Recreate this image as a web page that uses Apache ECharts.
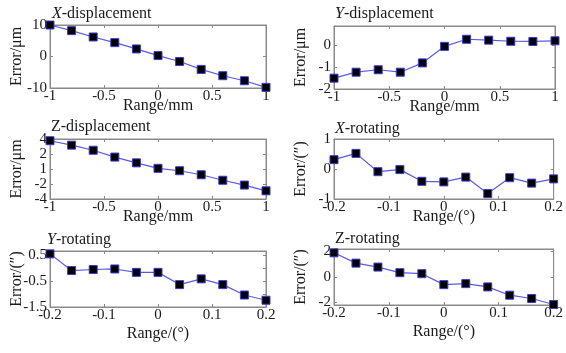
<!DOCTYPE html>
<html>
<head>
<meta charset="utf-8">
<script src="https://cdn.jsdelivr.net/npm/echarts@6/dist/echarts.min.js"></script>
<style>
  html, body { margin: 0; padding: 0; background: #fff; }
  #chart { width: 566px; height: 353px; }
</style>
</head>
<body>
<div id="chart"></div>
<script>
// Positions along the travel range (mm) and rotation range (degrees)
const rangeMm = [-1, -0.8, -0.6, -0.4, -0.2, 0, 0.2, 0.4, 0.6, 0.8, 1];
const rangeDeg = [-0.2, -0.16, -0.12, -0.08, -0.04, 0, 0.04, 0.08, 0.12, 0.16, 0.2];

// Measured errors for each motion axis
const xDisplacement = [10, 8.2, 6.2, 4.4, 2.4, 0.3, -1.6, -4.1, -6.1, -7.7, -9.8];
const yDisplacement = [-1.51, -1.24, -1.13, -1.24, -0.82, -0.07, 0.25, 0.21, 0.16, 0.15, 0.18];
const zDisplacement = [3.77, 3.18, 2.5, 1.59, 0.82, 0.09, -0.23, -0.77, -1.5, -2.14, -2.91];
const xRotating = [0.31, 0.52, -0.09, -0.02, -0.41, -0.43, -0.27, -0.82, -0.29, -0.47, -0.33];
const yRotating = [0.54, -0.1, -0.06, -0.04, -0.17, -0.17, -0.64, -0.42, -0.64, -1.04, -1.24];
const zRotating = [1.9, 1.09, 0.78, 0.34, 0.26, -0.6, -0.52, -0.78, -1.43, -1.69, -2.16];

// Tick values and the labels printed at them
const mmTicks = [-1, -0.5, 0, 0.5, 1];
const degTicks = [-0.2, -0.1, 0, 0.1, 0.2];
const xDispTicks = [-10, 0, 10];
const yDispTicks = [-2, -1, 0];
const zDispTicks = [-4, -2, 0, 2, 4];
const zDispTickLabels = ['-4', '-2', '1', '2', '4'];
const xRotTicks = [-1, 0, 1];
const yRotTicks = [-1.5, -1, -0.5, 0, 0.5];
const zRotTicks = [-2, 0, 2];

const FONT = 'Liberation Serif, Times New Roman, serif';
const FRAME = '#8a8a8a';
const TEXT = '#1a1a1a';

const panels = [
  { title: ['X', '-displacement'], italic: true, x: rangeMm, y: xDisplacement, xTicks: mmTicks, xMin: -1, xMax: 1,
    yTicks: xDispTicks, yMin: -10, yMax: 10, xName: 'Range/mm', yName: 'Error/μm',
    grid: { left: 50, top: 25, width: 216, height: 63 }, titlePos: { left: 52, top: 6 }, xGap: 10 },
  { title: ['Y', '-displacement'], italic: true, x: rangeMm, y: yDisplacement, xTicks: mmTicks, xMin: -1, xMax: 1,
    yTicks: yDispTicks, yMin: -2, yMax: 0.85, xName: 'Range/mm', yName: 'Error/μm',
    grid: { left: 334, top: 26, width: 221, height: 63 }, titlePos: { left: 335, top: 6 }, xGap: 10 },
  { title: ['Z', '-displacement'], italic: false, x: rangeMm, y: zDisplacement, xTicks: mmTicks, xMin: -1, xMax: 1,
    yTicks: zDispTicks, yLabels: zDispTickLabels, yMin: -4, yMax: 4, xName: 'Range/mm', yName: 'Error/μm',
    grid: { left: 50, top: 139, width: 216, height: 60 }, titlePos: { left: 51, top: 119 }, xGap: 10 },
  { title: ['X', '-rotating'], italic: true, x: rangeDeg, y: xRotating, xTicks: degTicks, xMin: -0.2, xMax: 0.2,
    yTicks: xRotTicks, yMin: -1, yMax: 1, xName: 'Range/(°)', yName: 'Error/(″)',
    grid: { left: 334, top: 139, width: 221, height: 60 }, titlePos: { left: 335, top: 121 }, xGap: 10 },
  { title: ['Y', '-rotating'], italic: true, x: rangeDeg, y: yRotating, xTicks: degTicks, xMin: -0.2, xMax: 0.2,
    yTicks: yRotTicks, yMin: -1.5, yMax: 0.65, xName: 'Range/(°)', yName: 'Error/(″)',
    grid: { left: 50, top: 251, width: 216, height: 56 }, titlePos: { left: 47, top: 232 }, xGap: 19 },
  { title: ['Z', '-rotating'], italic: false, x: rangeDeg, y: zRotating, xTicks: degTicks, xMin: -0.2, xMax: 0.2,
    yTicks: zRotTicks, yMin: -2.2, yMax: 2.2, xName: 'Range/(°)', yName: 'Error/(″)',
    grid: { left: 334, top: 249, width: 221, height: 56 }, titlePos: { left: 335, top: 231 }, xGap: 19 }
];

const option = {
  backgroundColor: '#fff',
  animation: false,
  title: [], grid: [], xAxis: [], yAxis: [], series: []
};

function fmt(v) {
  return String(Math.round(v * 1000) / 1000);
}

panels.forEach((p, i) => {
  option.title.push({
    text: '{' + (p.italic ? 'i' : 'n') + '|' + p.title[0] + '}{n|' + p.title[1] + '}',
    left: p.titlePos.left, top: p.titlePos.top, padding: 0,
    textStyle: {
      fontWeight: 'normal',
      rich: {
        i: { fontFamily: FONT, fontSize: 16, fontStyle: 'italic', fontWeight: 'normal', color: TEXT },
        n: { fontFamily: FONT, fontSize: 16, fontWeight: 'normal', color: TEXT }
      }
    }
  });
  option.grid.push(Object.assign({ show: true, borderColor: FRAME, borderWidth: 1, backgroundColor: '#fff' }, p.grid));

  const common = {
    gridIndex: i, type: 'value',
    axisLine: { show: true, onZero: false, lineStyle: { color: FRAME, width: 1 } },
    splitLine: { show: false }
  };

  // bottom axis with labels
  option.xAxis.push(Object.assign({}, common, {
    position: 'bottom', min: p.xMin, max: p.xMax,
    name: p.xName, nameLocation: 'middle', nameGap: p.xGap, nameMoveOverlap: false,
    nameTextStyle: { fontFamily: FONT, fontSize: 16, color: TEXT, verticalAlign: 'top' },
    axisTick: { show: true, inside: true, length: 3, customValues: p.xTicks, lineStyle: { color: FRAME } },
    axisLabel: { show: true, margin: 1, fontFamily: FONT, fontSize: 15, color: TEXT, hideOverlap: false,
      customValues: p.xTicks, formatter: v => fmt(v) }
  }));
  // top edge: ticks only
  option.xAxis.push(Object.assign({}, common, {
    position: 'top', min: p.xMin, max: p.xMax,
    axisTick: { show: true, inside: true, length: 3, customValues: p.xTicks, lineStyle: { color: FRAME } },
    axisLabel: { show: false }
  }));
  // left axis with labels
  option.yAxis.push(Object.assign({}, common, {
    position: 'left', min: p.yMin, max: p.yMax,
    name: p.yName, nameLocation: 'middle', nameGap: 25, nameRotate: 90, nameMoveOverlap: false,
    nameTextStyle: { fontFamily: FONT, fontSize: 16, color: TEXT },
    axisTick: { show: true, inside: true, length: 3, customValues: p.yTicks, lineStyle: { color: FRAME } },
    axisLabel: { show: true, margin: 3, fontFamily: FONT, fontSize: 15, color: TEXT, hideOverlap: false,
      showMinLabel: true, showMaxLabel: true,
      customValues: p.yTicks,
      formatter: v => {
        if (p.yLabels) {
          const k = p.yTicks.findIndex(t => Math.abs(t - v) < 1e-9);
          return k >= 0 ? p.yLabels[k] : '';
        }
        return fmt(v);
      } }
  }));
  // right edge: ticks only
  option.yAxis.push(Object.assign({}, common, {
    position: 'right', min: p.yMin, max: p.yMax,
    axisTick: { show: true, inside: true, length: 3, customValues: p.yTicks, lineStyle: { color: FRAME } },
    axisLabel: { show: false }
  }));

  option.series.push({
    type: 'line',
    xAxisIndex: i * 2, yAxisIndex: i * 2,
    data: p.x.map((xv, k) => [xv, p.y[k]]),
    symbol: 'rect', symbolSize: 8,
    lineStyle: { color: '#5a5ae0', width: 1.2 },
    itemStyle: { color: '#000', borderColor: '#3a3ad0', borderWidth: 1 },
    clip: false
  });
});

const chart = echarts.init(document.getElementById('chart'), null, { renderer: 'canvas' });
chart.setOption(option);
</script>
</body>
</html>
